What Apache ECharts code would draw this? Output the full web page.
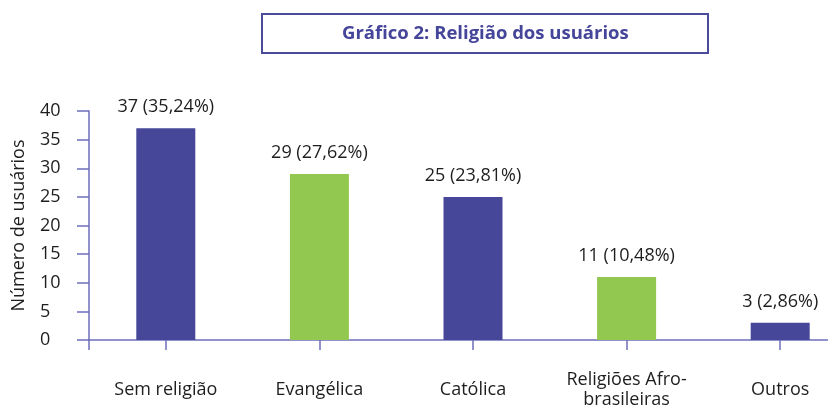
<!DOCTYPE html>
<html>
<head>
<meta charset="utf-8">
<script src="https://cdn.jsdelivr.net/npm/echarts@6/dist/echarts.min.js"></script>
<style>
html,body{margin:0;padding:0;background:#fff;}
#chart{width:828px;height:410px;}
</style>
</head>
<body>
<div id="chart"></div>
<script>
var titleText = "Gráfico 2: Religião dos usuários";
var yAxisName = "Número de usuários";
var categories = ["Sem religião", "Evangélica", "Católica", "Religiões Afro-\nbrasileiras", "Outros"];
var counts = [37, 29, 25, 11, 3];
var percents = ["35,24%", "27,62%", "23,81%", "10,48%", "2,86%"];
var barColors = ["#47479a", "#93c850", "#47479a", "#93c850", "#47479a"];
var yTicks = { min: 0, max: 40, interval: 5 };

var axisColor = "#6d6dbb";
var textColor = "#1e1e1e";
var fontFamily = "'Open Sans', 'Noto Sans', sans-serif";

var chart = echarts.init(document.getElementById('chart'), null, { renderer: 'canvas' });

var seriesData = counts.map(function (v, i) {
  return { value: v, itemStyle: { color: barColors[i] } };
});

chart.setOption({
  backgroundColor: '#ffffff',
  animation: false,
  title: {
    text: titleText,
    left: 262,
    top: 14,
    padding: [10, 80, 10, 80],
    borderColor: '#4b4b9c',
    borderWidth: 2,
    textStyle: {
      color: '#45459a',
      fontFamily: fontFamily,
      fontWeight: 'bold',
      fontSize: 18.5
    }
  },
  grid: { left: 89, width: 768, top: 111, bottom: 70, containLabel: false, outerBoundsMode: 'none' },
  xAxis: [{
    type: 'category',
    data: categories,
    axisLine: { show: true, lineStyle: { color: axisColor, width: 1.5 } },
    axisTick: { show: true, alignWithLabel: true, length: 10, lineStyle: { color: axisColor, width: 1.5 } },
    axisLabel: {
      color: textColor, fontFamily: fontFamily, fontSize: 18,
      margin: 50, verticalAlign: 'middle', lineHeight: 20, interval: 0
    }
  }, {
    type: 'category',
    data: categories,
    position: 'bottom',
    axisLine: { show: false },
    axisLabel: { show: false },
    axisTick: {
      show: true, alignWithLabel: false, length: 10,
      interval: function (i) { return i === 0; },
      lineStyle: { color: axisColor, width: 1.5 }
    }
  }],
  yAxis: {
    type: 'value',
    min: yTicks.min,
    max: yTicks.max,
    interval: yTicks.interval,
    name: yAxisName,
    nameLocation: 'middle',
    nameGap: 61,
    nameTextStyle: { color: textColor, fontFamily: fontFamily, fontSize: 18 },
    axisLine: { show: true, lineStyle: { color: axisColor, width: 1.5 } },
    axisTick: { show: true, length: 12, lineStyle: { color: axisColor, width: 1.5 } },
    splitLine: { show: false },
    axisLabel: {
      color: textColor, fontFamily: fontFamily, fontSize: 18,
      align: 'left', margin: 49
    }
  },
  series: [{
    type: 'bar',
    xAxisIndex: 0,
    data: seriesData,
    barWidth: 59,
    label: {
      show: true,
      position: 'top',
      distance: 12,
      color: textColor,
      fontFamily: fontFamily,
      fontSize: 18,
      formatter: function (p) { return counts[p.dataIndex] + ' (' + percents[p.dataIndex] + ')'; }
    }
  }]
});
</script>
</body>
</html>
